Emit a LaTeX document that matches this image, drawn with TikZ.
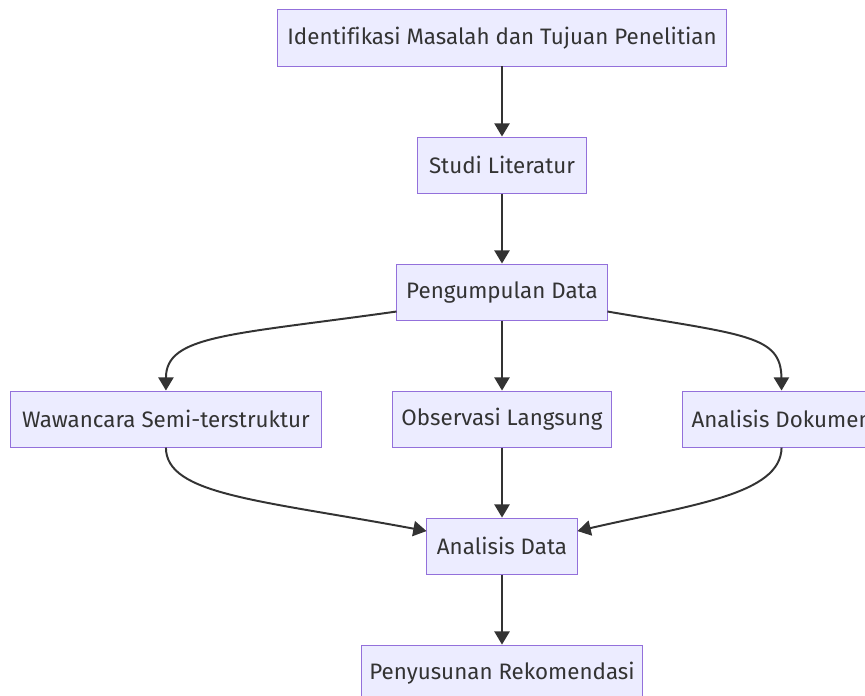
\documentclass[tikz,border=0pt]{standalone}
\usepackage{fontspec}
\setmainfont[Ligatures=NoCommon]{Fira Sans}
\usetikzlibrary{positioning,arrows.meta}
\definecolor{boxfill}{HTML}{ECECFF}
\definecolor{boxline}{HTML}{9370DB}
\definecolor{linkcol}{HTML}{333333}

\begin{document}
\begin{tikzpicture}[x=0.025cm, y=-0.025cm, node distance=1.75cm,
    box/.style={draw=boxline, fill=boxfill, line width=0.7pt, rectangle, minimum height=1.4cm, inner xsep=0.2cm, text=linkcol, font=\fontsize{15.9}{18}\selectfont},
    link/.style={draw=linkcol, line width=1.4pt, -{Triangle[length=0.33cm,width=0.38cm]}}]
        \useasboundingbox (0,0) rectangle (865,695);

        \node[box, minimum width=11.2cm] (ident) at (502,38) {Identifikasi Masalah dan Tujuan Penelitian};
        \node[box, minimum width=4.225cm, below=of ident] (studi) {Studi Literatur};
        \node[box, minimum width=5.25cm, below=of studi] (kumpul) {Pengumpulan Data};
        \node[box, minimum width=5.475cm, below=of kumpul] (obs) {Observasi Langsung};
        \node[box, minimum width=7.775cm, left=of obs] (wawan) {Wawancara Semi-terstruktur};
        \node[box, minimum width=4.95cm, right=of obs] (dok) {Analisis Dokumen};
        \node[box, minimum width=3.75cm, below=of obs] (anal) {Analisis Data};
        \node[box, minimum width=6.975cm, below=of anal] (susun) {Penyusunan Rekomendasi};

        \draw[link] (ident) -- (studi);
        \draw[link] (studi) -- (kumpul);
        \draw[link] ([yshift=0.225cm]kumpul.south west) .. controls (230,335) and (166,335) .. (wawan.north);
        \draw[link] (kumpul) -- (obs);
        \draw[link] ([yshift=0.225cm]kumpul.south east) .. controls (745,335) and (781,335) .. (dok.north);
        \draw[link] (wawan.south) .. controls (166,495) and (260,500) .. ([yshift=0.375cm]anal.west);
        \draw[link] (obs) -- (anal);
        \draw[link] (dok.south) .. controls (781,495) and (690,505) .. ([yshift=0.375cm]anal.east);
        \draw[link] (anal) -- (susun);
    \end{tikzpicture}
\end{document}
